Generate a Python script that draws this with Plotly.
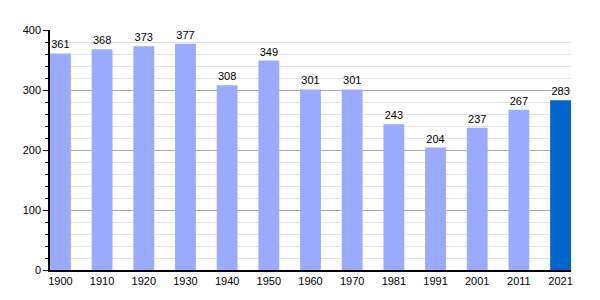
import plotly.graph_objects as go

years = ["1900", "1910", "1920", "1930", "1940", "1950", "1960", "1970", "1981", "1991", "2001", "2011", "2021"]
population = [361, 368, 373, 377, 308, 349, 301, 301, 243, 204, 237, 267, 283]
colors = ["#99aaff"] * 12 + ["#0066cc"]

fig = go.Figure(go.Bar(
    x=years, y=population, marker=dict(color=colors, line=dict(width=0)),
    width=0.5, text=[str(v) for v in population], textposition="outside",
    textfont=dict(size=11, color="#000000", family="Liberation Sans"), cliponaxis=False,
))
fig.update_layout(
    width=600, height=300, margin=dict(l=50, r=29, t=30, b=30),
    paper_bgcolor="white", plot_bgcolor="white", showlegend=False,
    font=dict(family="Liberation Sans", size=11, color="#000000"),
    xaxis=dict(type="category", range=[-0.25, 12.25], showline=True, linecolor="#000000",
               linewidth=1.5, ticks="", showgrid=False, tickfont=dict(size=11)),
    yaxis=dict(range=[0, 400], dtick=100, showline=True, linecolor="#000000", linewidth=1.5,
               ticks="outside", ticklen=5, tickcolor="#000000",
               showgrid=True, gridcolor="#aaaaaa", gridwidth=1, zeroline=False,
               minor=dict(dtick=20, showgrid=True, gridcolor="#e2e2e2", ticks="outside",
                          ticklen=3, tickcolor="#000000")),
)
fig.write_html("out.html")
